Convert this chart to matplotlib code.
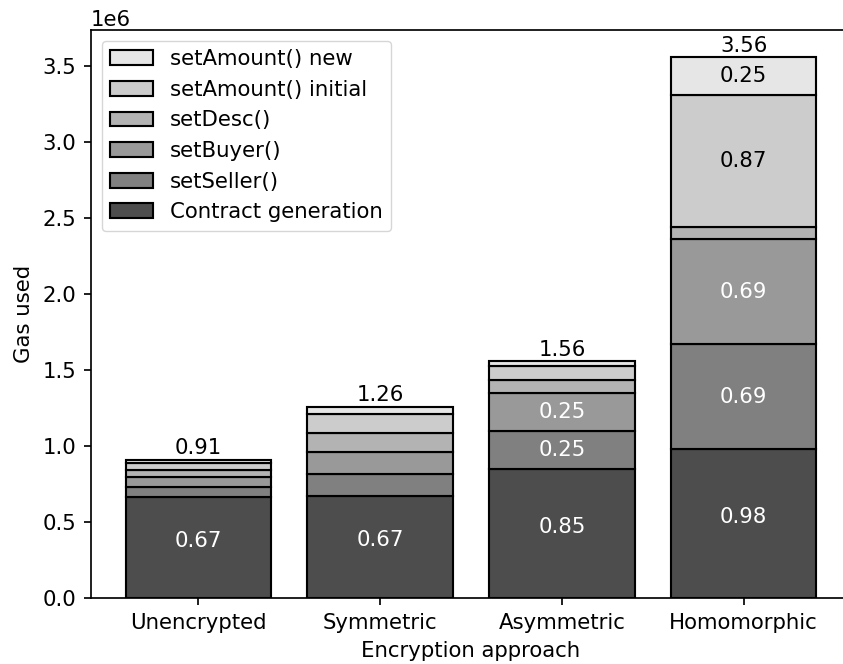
import matplotlib
matplotlib.use("Agg")
import matplotlib.pyplot as plt
import numpy as np

approaches = ["Unencrypted", "Symmetric", "Asymmetric", "Homomorphic"]
contract_gen = [665000, 668000, 849000, 980000]
set_seller = [68000, 145000, 253000, 690000]
set_buyer = [66000, 148000, 250000, 690000]
set_desc = [46000, 126000, 81000, 82000]
set_amount_initial = [45000, 127000, 92000, 868000]
set_amount_new = [20000, 46000, 35000, 250000]

series = [
    ("Contract generation", contract_gen, "#4d4d4d", "white"),
    ("setSeller()", set_seller, "#808080", "white"),
    ("setBuyer()", set_buyer, "#999999", "white"),
    ("setDesc()", set_desc, "#b3b3b3", "black"),
    ("setAmount() initial", set_amount_initial, "#cccccc", "black"),
    ("setAmount() new", set_amount_new, "#e6e6e6", "black"),
]

S = 1.53
plt.rcParams["font.size"] = 10 * S
plt.rcParams["axes.linewidth"] = 0.8 * S
plt.rcParams["xtick.major.width"] = 0.8 * S
plt.rcParams["ytick.major.width"] = 0.8 * S
plt.rcParams["xtick.major.size"] = 3.5 * S
plt.rcParams["ytick.major.size"] = 3.5 * S
plt.rcParams["xtick.major.pad"] = 3.5 * S
plt.rcParams["ytick.major.pad"] = 3.5 * S
plt.rcParams["axes.labelpad"] = 4 * S

fig = plt.figure(figsize=(8.43, 6.64), dpi=100)
ax = fig.add_axes([91 / 843, (664 - 598) / 664, 760 / 843, 568 / 664])

x = np.arange(len(approaches))
bottom = np.zeros(len(approaches))
containers = []
for i, (name, vals, color, tcol) in enumerate(series):
    vals = np.array(vals, dtype=float)
    bc = ax.bar(x, vals, 0.8, bottom=bottom, color=color, edgecolor="black",
                linewidth=1.0 * S, label=name)
    dy = 5 if i == 0 else 0
    for xi, b, v in zip(x, bottom, vals):
        if v >= 200000:
            ax.annotate(f"{v/1e6:.2f}", (xi, b + v / 2), xytext=(0, dy),
                        textcoords="offset points", ha="center", va="center",
                        color=tcol)
    containers.append(bc)
    bottom = bottom + vals

totals = bottom
ax.bar_label(containers[-1], labels=[f"{t/1e6:.2f}" for t in totals], padding=1)

ax.set_xticks(x)
ax.set_xticklabels(approaches)
ax.set_xlabel("Encryption approach")
ax.set_ylabel("Gas used")
ax.margins(x=0.05, y=0.05)

handles, labs = ax.get_legend_handles_labels()
ax.legend(handles[::-1], labs[::-1], loc="upper left")

fig.savefig("out.png", dpi=100)
